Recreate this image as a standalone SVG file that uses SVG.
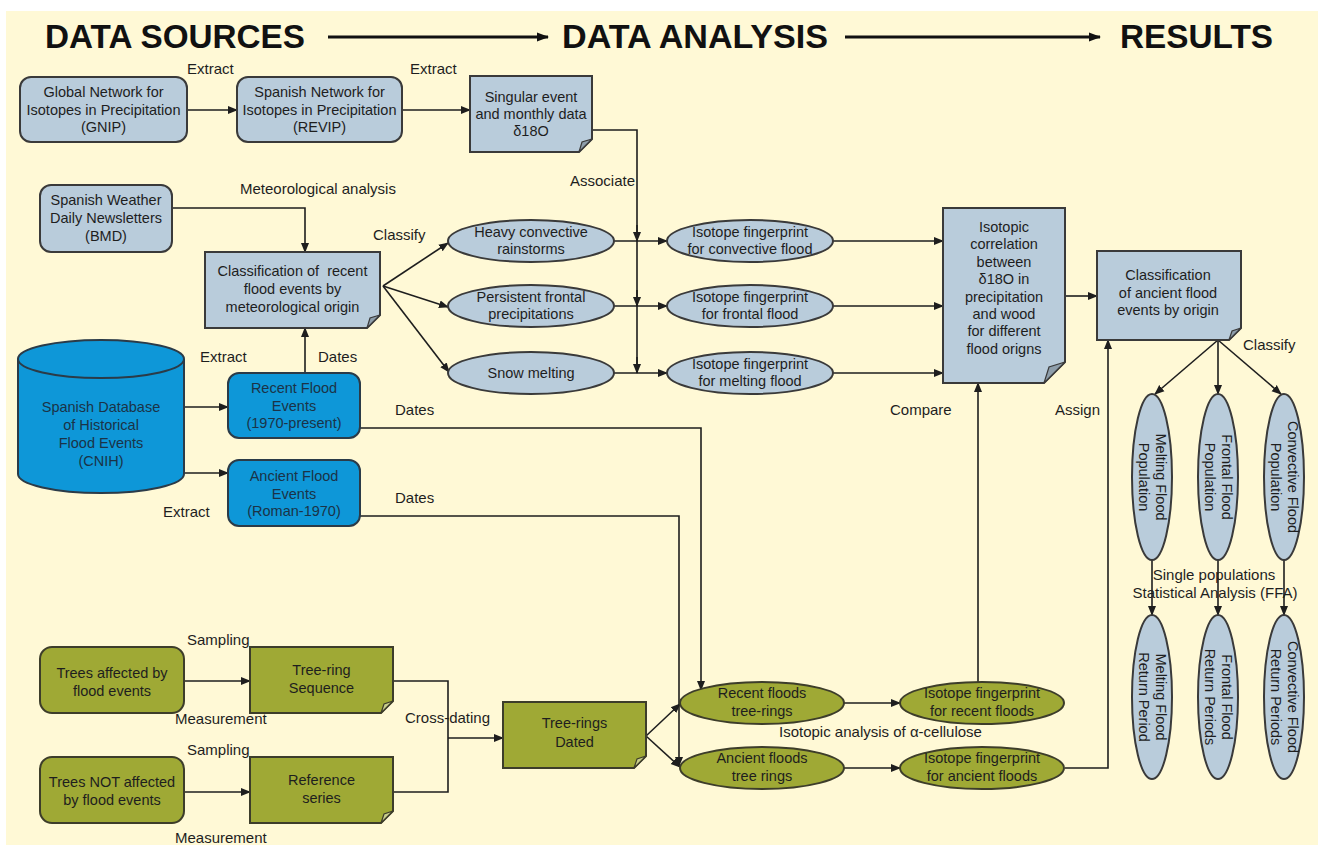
<svg xmlns="http://www.w3.org/2000/svg" width="1325" height="850" viewBox="0 0 1325 850">
<style>
text{font-family:"Liberation Sans",Arial,sans-serif;fill:#1e1e1e}
.t{font-size:14.5px;text-anchor:middle}
.l{font-size:15px}
.h{font-size:33px;font-weight:bold;fill:#111}
.gb{fill:#B9CCDB;stroke:#3a3a3a;stroke-width:2}
.bb{fill:#0E97D8;stroke:#2b3b48;stroke-width:2}
.ol{fill:#9FA935;stroke:#3d3d2a;stroke-width:2}
.fold{fill:#8e9eab;stroke:#3a3a3a;stroke-width:1.2}
.foldo{fill:#c9cf8a;stroke:#3d3d2a;stroke-width:1.2}
.bt{fill:#1b3347}
.c{fill:none;stroke:#1e1e1e;stroke-width:1.6}
.c2{fill:none;stroke:#111;stroke-width:3}
</style>
<defs>
<marker id="a" markerWidth="10" markerHeight="10" refX="9" refY="5" orient="auto" markerUnits="userSpaceOnUse"><path d="M0,1 L10,5 L0,9 Z" fill="#1e1e1e"/></marker>
<marker id="ab" markerWidth="12" markerHeight="12" refX="11" refY="6" orient="auto" markerUnits="userSpaceOnUse"><path d="M0,1.5 L12,6 L0,10.5 Z" fill="#111"/></marker>
</defs>
<rect x="6" y="11" width="1312" height="834" fill="#FFF9D6"/>

<g id="titles">
<text class="h" x="45" y="48" textLength="260" lengthAdjust="spacingAndGlyphs">DATA SOURCES</text>
<text class="h" x="562" y="48" textLength="266" lengthAdjust="spacingAndGlyphs">DATA ANALYSIS</text>
<text class="h" x="1120" y="48" textLength="153" lengthAdjust="spacingAndGlyphs">RESULTS</text>
</g>

<g id="connectors">
<line class="c2" x1="328" y1="37" x2="548" y2="37" marker-end="url(#ab)"/>
<line class="c2" x1="845" y1="37" x2="1100" y2="37" marker-end="url(#ab)"/>
<line class="c" x1="187" y1="110" x2="237" y2="110" marker-end="url(#a)"/>
<line class="c" x1="402" y1="110" x2="470" y2="110" marker-end="url(#a)"/>
<polyline class="c" points="592,130 637,130 637,373"/>
<line class="c" x1="637" y1="225" x2="637" y2="241" marker-end="url(#a)"/>
<line class="c" x1="637" y1="290" x2="637" y2="306" marker-end="url(#a)"/>
<line class="c" x1="637" y1="357" x2="637" y2="373" marker-end="url(#a)"/>
<polyline class="c" points="172,208 305,208 305,252" marker-end="url(#a)"/>
<line class="c" x1="383" y1="286" x2="448" y2="243" marker-end="url(#a)"/>
<line class="c" x1="383" y1="286" x2="448" y2="307" marker-end="url(#a)"/>
<line class="c" x1="383" y1="286" x2="449" y2="372" marker-end="url(#a)"/>
<line class="c" x1="614" y1="241" x2="667" y2="241" marker-end="url(#a)"/>
<line class="c" x1="614" y1="306" x2="667" y2="306" marker-end="url(#a)"/>
<line class="c" x1="614" y1="373" x2="667" y2="373" marker-end="url(#a)"/>
<line class="c" x1="833" y1="241" x2="943" y2="241" marker-end="url(#a)"/>
<line class="c" x1="833" y1="306" x2="943" y2="306" marker-end="url(#a)"/>
<line class="c" x1="833" y1="373" x2="943" y2="373" marker-end="url(#a)"/>
<line class="c" x1="1065" y1="296" x2="1097" y2="296" marker-end="url(#a)"/>
<line class="c" x1="1218" y1="340" x2="1155" y2="394" marker-end="url(#a)"/>
<line class="c" x1="1218" y1="340" x2="1218" y2="394" marker-end="url(#a)"/>
<line class="c" x1="1218" y1="340" x2="1281" y2="394" marker-end="url(#a)"/>
<line class="c" x1="1152" y1="560" x2="1152" y2="615" marker-end="url(#a)"/>
<line class="c" x1="1218" y1="560" x2="1218" y2="615" marker-end="url(#a)"/>
<line class="c" x1="1284" y1="560" x2="1284" y2="615" marker-end="url(#a)"/>
<line class="c" x1="184" y1="407" x2="228" y2="407" marker-end="url(#a)"/>
<line class="c" x1="184" y1="473" x2="228" y2="473" marker-end="url(#a)"/>
<line class="c" x1="305" y1="372" x2="305" y2="328" marker-end="url(#a)"/>
<polyline class="c" points="360,428 701,428 701,690" marker-end="url(#a)"/>
<polyline class="c" points="360,516 679,516 679,766" marker-end="url(#a)"/>
<line class="c" x1="978" y1="682" x2="978" y2="383" marker-end="url(#a)"/>
<polyline class="c" points="1065,768 1108,768 1108,340" marker-end="url(#a)"/>
<line class="c" x1="184" y1="681" x2="250" y2="681" marker-end="url(#a)"/>
<line class="c" x1="184" y1="792" x2="250" y2="792" marker-end="url(#a)"/>
<polyline class="c" points="393,681 448,681 448,792 393,792"/>
<line class="c" x1="448" y1="738" x2="503" y2="738" marker-end="url(#a)"/>
<line class="c" x1="646" y1="736" x2="680" y2="704" marker-end="url(#a)"/>
<line class="c" x1="646" y1="736" x2="680" y2="767" marker-end="url(#a)"/>
<line class="c" x1="844" y1="703" x2="900" y2="703" marker-end="url(#a)"/>
<line class="c" x1="844" y1="768" x2="900" y2="768" marker-end="url(#a)"/>
</g>

<g id="labels">
<text class="l" x="187" y="74">Extract</text>
<text class="l" x="410" y="74">Extract</text>
<text class="l" x="570" y="186">Associate</text>
<text class="l" x="240" y="194">Meteorological analysis</text>
<text class="l" x="373" y="240">Classify</text>
<text class="l" x="200" y="362">Extract</text>
<text class="l" x="318" y="362">Dates</text>
<text class="l" x="395" y="415">Dates</text>
<text class="l" x="395" y="503">Dates</text>
<text class="l" x="163" y="517">Extract</text>
<text class="l" x="890" y="415">Compare</text>
<text class="l" x="1055" y="415">Assign</text>
<text class="l" x="1243" y="350">Classify</text>
<text class="l" x="1214" y="580" text-anchor="middle">Single populations</text>
<text class="l" x="1215" y="598" text-anchor="middle">Statistical Analysis (FFA)</text>
<text class="l" x="187" y="645">Sampling</text>
<text class="l" x="175" y="724">Measurement</text>
<text class="l" x="187" y="755">Sampling</text>
<text class="l" x="175" y="843">Measurement</text>
<text class="l" x="405" y="723">Cross-dating</text>
<text class="l" x="779" y="737">Isotopic analysis of α-cellulose</text>
</g>

<g id="gnip">
<rect class="gb" x="20" y="77" width="167" height="65" rx="11"/>
<text class="t" x="103.5" y="97">Global Network for<tspan x="103.5" dy="17.5">Isotopes in Precipitation</tspan><tspan x="103.5" dy="17.5">(GNIP)</tspan></text>
</g>
<g id="revip">
<rect class="gb" x="237" y="77" width="165" height="65" rx="11"/>
<text class="t" x="319.5" y="97">Spanish Network for<tspan x="319.5" dy="17.5">Isotopes in Precipitation</tspan><tspan x="319.5" dy="17.5">(REVIP)</tspan></text>
</g>
<g id="singular">
<path class="gb" d="M470,76 H592 V139 L579,152 H470 Z"/>
<path class="fold" d="M592,139 L579,152 L582,142 Z"/>
<text class="t" x="531" y="102">Singular event<tspan x="531" dy="17">and monthly data</tspan><tspan x="531" dy="17">δ18O</tspan></text>
</g>
<g id="bmd">
<rect class="gb" x="40" y="185" width="132" height="67" rx="11"/>
<text class="t" x="106" y="205">Spanish Weather<tspan x="106" dy="18">Daily Newsletters</tspan><tspan x="106" dy="18">(BMD)</tspan></text>
</g>
<g id="classrecent">
<path class="gb" d="M205,252 H380 V315 L367,328 H205 Z"/>
<path class="fold" d="M380,315 L367,328 L370,318 Z"/>
<text class="t" x="292.5" y="276" xml:space="preserve">Classification of  recent<tspan x="292.5" dy="18">flood events by</tspan><tspan x="292.5" dy="18">meteorological origin</tspan></text>
</g>
<g id="heavy">
<ellipse class="gb" cx="531" cy="241" rx="83" ry="21"/>
<text class="t" x="531" y="237">Heavy convective<tspan x="531" dy="17">rainstorms</tspan></text>
</g>
<g id="frontal">
<ellipse class="gb" cx="531" cy="306" rx="83" ry="21"/>
<text class="t" x="531" y="302">Persistent frontal<tspan x="531" dy="17">precipitations</tspan></text>
</g>
<g id="snow">
<ellipse class="gb" cx="531" cy="373" rx="83" ry="21"/>
<text class="t" x="531" y="378">Snow melting</text>
</g>
<g id="fpconv">
<ellipse class="gb" cx="750" cy="241" rx="83" ry="21"/>
<text class="t" x="750" y="237">Isotope fingerprint<tspan x="750" dy="17">for convective flood</tspan></text>
</g>
<g id="fpfront">
<ellipse class="gb" cx="750" cy="306" rx="83" ry="21"/>
<text class="t" x="750" y="302">Isotope fingerprint<tspan x="750" dy="17">for frontal flood</tspan></text>
</g>
<g id="fpmelt">
<ellipse class="gb" cx="750" cy="373" rx="83" ry="21"/>
<text class="t" x="750" y="369">Isotope fingerprint<tspan x="750" dy="17">for melting flood</tspan></text>
</g>
<g id="isocorr">
<path class="gb" d="M943,208 H1065 V362 L1044,383 H943 Z"/>
<path class="fold" d="M1065,362 L1044,383 L1049,367 Z"/>
<text class="t" x="1004" y="232">Isotopic<tspan x="1004" dy="17.4">correlation</tspan><tspan x="1004" dy="17.4">between</tspan><tspan x="1004" dy="17.4">δ18O in</tspan><tspan x="1004" dy="17.4">precipitation</tspan><tspan x="1004" dy="17.4">and wood</tspan><tspan x="1004" dy="17.4">for different</tspan><tspan x="1004" dy="17.4">flood origns</tspan></text>
</g>
<g id="classancient">
<path class="gb" d="M1097,251 H1241 V328 L1229,340 H1097 Z"/>
<path class="fold" d="M1241,328 L1229,340 L1232,331 Z"/>
<text class="t" x="1168" y="280">Classification<tspan x="1168" dy="17.5">of ancient flood</tspan><tspan x="1168" dy="17.5">events by origin</tspan></text>
</g>
<g id="meltpop">
<ellipse class="gb" cx="1152" cy="477" rx="20" ry="83"/>
<text class="t" transform="translate(1152,477) rotate(90)" x="0" y="-3.5">Melting Flood<tspan x="0" dy="17">Population</tspan></text>
</g>
<g id="frontpop">
<ellipse class="gb" cx="1218" cy="477" rx="20" ry="83"/>
<text class="t" transform="translate(1218,477) rotate(90)" x="0" y="-3.5">Frontal Flood<tspan x="0" dy="17">Population</tspan></text>
</g>
<g id="convpop">
<ellipse class="gb" cx="1284" cy="477" rx="20" ry="83"/>
<text class="t" transform="translate(1284,477) rotate(90)" x="0" y="-3.5">Convective Flood<tspan x="0" dy="17">Population</tspan></text>
</g>
<g id="meltret">
<ellipse class="gb" cx="1152" cy="697" rx="20" ry="82"/>
<text class="t" transform="translate(1152,697) rotate(90)" x="0" y="-3.5">Melting Flood<tspan x="0" dy="17">Return Period</tspan></text>
</g>
<g id="frontret">
<ellipse class="gb" cx="1218" cy="697" rx="20" ry="82"/>
<text class="t" transform="translate(1218,697) rotate(90)" x="0" y="-3.5">Frontal Flood<tspan x="0" dy="17">Return Periods</tspan></text>
</g>
<g id="convret">
<ellipse class="gb" cx="1284" cy="697" rx="20" ry="82"/>
<text class="t" transform="translate(1284,697) rotate(90)" x="0" y="-3.5">Convective Flood<tspan x="0" dy="17">Return Periods</tspan></text>
</g>
<g id="cnih">
<path class="bb" d="M18,359 V474 A83,19 0 0 0 184,474 V359"/>
<ellipse class="bb" cx="101" cy="359" rx="83" ry="19"/>
<text class="t bt" x="101" y="412">Spanish Database<tspan x="101" dy="18">of Historical</tspan><tspan x="101" dy="18">Flood Events</tspan><tspan x="101" dy="18">(CNIH)</tspan></text>
</g>
<g id="recentev">
<rect class="bb" x="228" y="373" width="132" height="65" rx="11"/>
<text class="t bt" x="294" y="393">Recent Flood<tspan x="294" dy="17.5">Events</tspan><tspan x="294" dy="17.5">(1970-present)</tspan></text>
</g>
<g id="ancientev">
<rect class="bb" x="228" y="460" width="132" height="66" rx="11"/>
<text class="t bt" x="294" y="481">Ancient Flood<tspan x="294" dy="17.5">Events</tspan><tspan x="294" dy="17.5">(Roman-1970)</tspan></text>
</g>
<g id="treesaff">
<rect class="ol" x="40" y="647" width="144" height="66" rx="12"/>
<text class="t" x="112" y="678">Trees affected by<tspan x="112" dy="18">flood events</tspan></text>
</g>
<g id="treeseq">
<path class="ol" d="M250,647 H393 V701 L381,713 H250 Z"/>
<path class="foldo" d="M393,701 L381,713 L384,704 Z"/>
<text class="t" x="321.5" y="675">Tree-ring<tspan x="321.5" dy="17.5">Sequence</tspan></text>
</g>
<g id="treesnot">
<rect class="ol" x="40" y="757" width="144" height="66" rx="12"/>
<text class="t" x="112" y="787">Trees NOT affected<tspan x="112" dy="18">by flood events</tspan></text>
</g>
<g id="refseries">
<path class="ol" d="M250,757 H393 V811 L381,823 H250 Z"/>
<path class="foldo" d="M393,811 L381,823 L384,814 Z"/>
<text class="t" x="321.5" y="785">Reference<tspan x="321.5" dy="17.5">series</tspan></text>
</g>
<g id="treedated">
<path class="ol" d="M503,702 H646 V756 L634,768 H503 Z"/>
<path class="foldo" d="M646,756 L634,768 L637,759 Z"/>
<text class="t" x="574.5" y="728">Tree-rings<tspan x="574.5" dy="19">Dated</tspan></text>
</g>
<g id="recenttr">
<ellipse class="ol" cx="762" cy="703" rx="82" ry="21"/>
<text class="t" x="762" y="698">Recent floods<tspan x="762" dy="18">tree-rings</tspan></text>
</g>
<g id="ancienttr">
<ellipse class="ol" cx="762" cy="768" rx="82" ry="21"/>
<text class="t" x="762" y="763">Ancient floods<tspan x="762" dy="18">tree rings</tspan></text>
</g>
<g id="fprecent">
<ellipse class="ol" cx="982" cy="703" rx="82" ry="21"/>
<text class="t" x="982" y="698">Isotope fingerprint<tspan x="982" dy="18">for recent floods</tspan></text>
</g>
<g id="fpancient">
<ellipse class="ol" cx="982" cy="768" rx="82" ry="21"/>
<text class="t" x="982" y="763">Isotope fingerprint<tspan x="982" dy="18">for ancient floods</tspan></text>
</g>
</svg>
